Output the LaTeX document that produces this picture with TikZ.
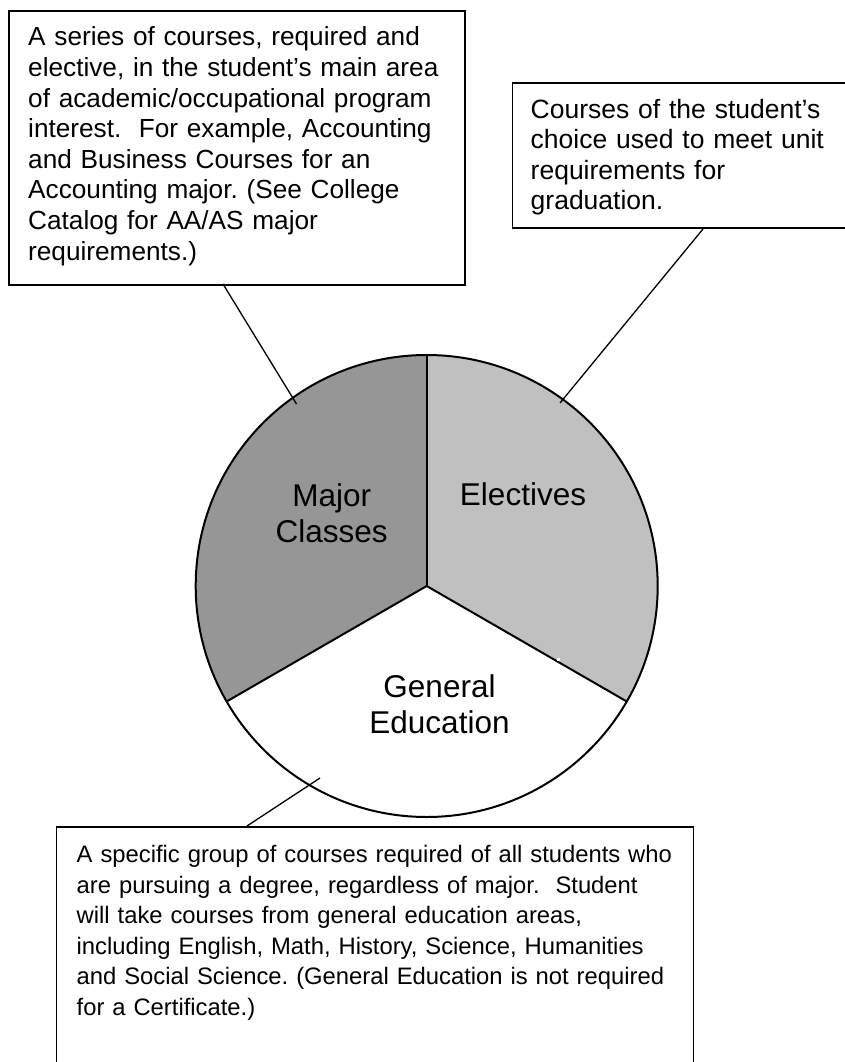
\documentclass[tikz,border=0pt]{standalone}
\usepackage{fontspec}
\setmainfont{Liberation Sans}
\usetikzlibrary{calc}
\definecolor{majorgray}{RGB}{150,150,150}
\definecolor{electgray}{RGB}{192,192,192}
\newcommand\calloutfont{\fontsize{26.2}{30.6}\selectfont\frenchspacing}
\newcommand\sidefont{\fontsize{26.5}{30.5}\selectfont\frenchspacing}
\newcommand\lowerfont{\fontsize{23.8}{30.5}\selectfont\frenchspacing}
\newcommand\slicefont{\fontsize{31.5}{36}\selectfont\frenchspacing}
\begin{document}
\begin{tikzpicture}[x=1pt,y=-1pt,
  callout/.style={draw=black, line width=1.6pt, fill=white, rectangle,
    anchor=north west, inner sep=0pt},
  callouttext/.style={anchor=base west, inner sep=0pt, align=left,
    font=\calloutfont, text width=#1},
  slicelabel/.style={anchor=base, inner sep=0pt, align=center,
    font=\slicefont, text width=200pt},
  leader/.style={line width=1.3pt, black},
  pieline/.style={line width=2pt, black},
]
% canvas
\fill[white] (0,0) rectangle (845,1062);
\useasboundingbox (0,0) rectangle (845,1062);

% pie centre and radius 231
\coordinate (c) at (426.7,586);

% slices
\fill[majorgray] (c) -- ++(150:231) arc[start angle=150, end angle=270, radius=231] -- cycle;
\fill[electgray] (c) -- ++(270:231) arc[start angle=270, end angle=390, radius=231] -- cycle;

% description boxes
\node[callout, minimum width=456pt, minimum height=274pt] (majbox) at (8,10) {};
\node[callout, minimum width=360pt, minimum height=145pt] (elebox) at (511.7,82) {};
\node[callout, minimum width=637pt, minimum height=260pt] (genbox) at (55.7,826) {};

\node[callouttext=430pt] (majtext) at (28,46) {A series of courses, required and\\
elective, in the student’s main area\\
of academic/occupational program\\
interest.\ \ For example, Accounting\\
and Business Courses for an\\
Accounting major. (See College\\
Catalog for AA/AS major\\
requirements.)};

\node[callouttext=310pt, font=\sidefont] (eletext) at (530.5,118.3) {Courses of the student’s\\
choice used to meet unit\\
requirements for\\
graduation.};

\node[callouttext=620pt, font=\lowerfont] (gentext) at (76.5,862.7) {A specific group of courses required of all students who\\
are pursuing a degree, regardless of major.\ \ Student\\
will take courses from general education areas,\\
including English, Math, History, Science, Humanities\\
and Social Science. (General Education is not required\\
for a Certificate.)};

% leader line end points
\coordinate (majfrom) at (223,284);
\coordinate (majto) at (296.5,404);
\coordinate (elefrom) at (703,229);
\coordinate (eleto) at (560,403);
\coordinate (genfrom) at (320,778);
\coordinate (gento) at (247,826);

\draw[leader] (majfrom) -- (majto);
\draw[leader] (elefrom) -- (eleto);
\draw[leader] (genfrom) -- (gento);

% pie outline and dividers
\draw[pieline] (c) circle[radius=231];
\draw[pieline] (c) -- ++(270:231);
\draw[pieline] (c) -- ++(150:231);
\draw[pieline] (c) -- ++(30:231);
\fill[white] (556.5,657.6) rectangle (560,661);

% slice labels
\node[slicelabel] (majlabel) at (331.7,506.7) {Major\\Classes};
\node[slicelabel] (elelabel) at (523,505.7) {Electives};
\node[slicelabel] (genlabel) at (439.5,697.7) {General\\Education};
\end{tikzpicture}
\end{document}
